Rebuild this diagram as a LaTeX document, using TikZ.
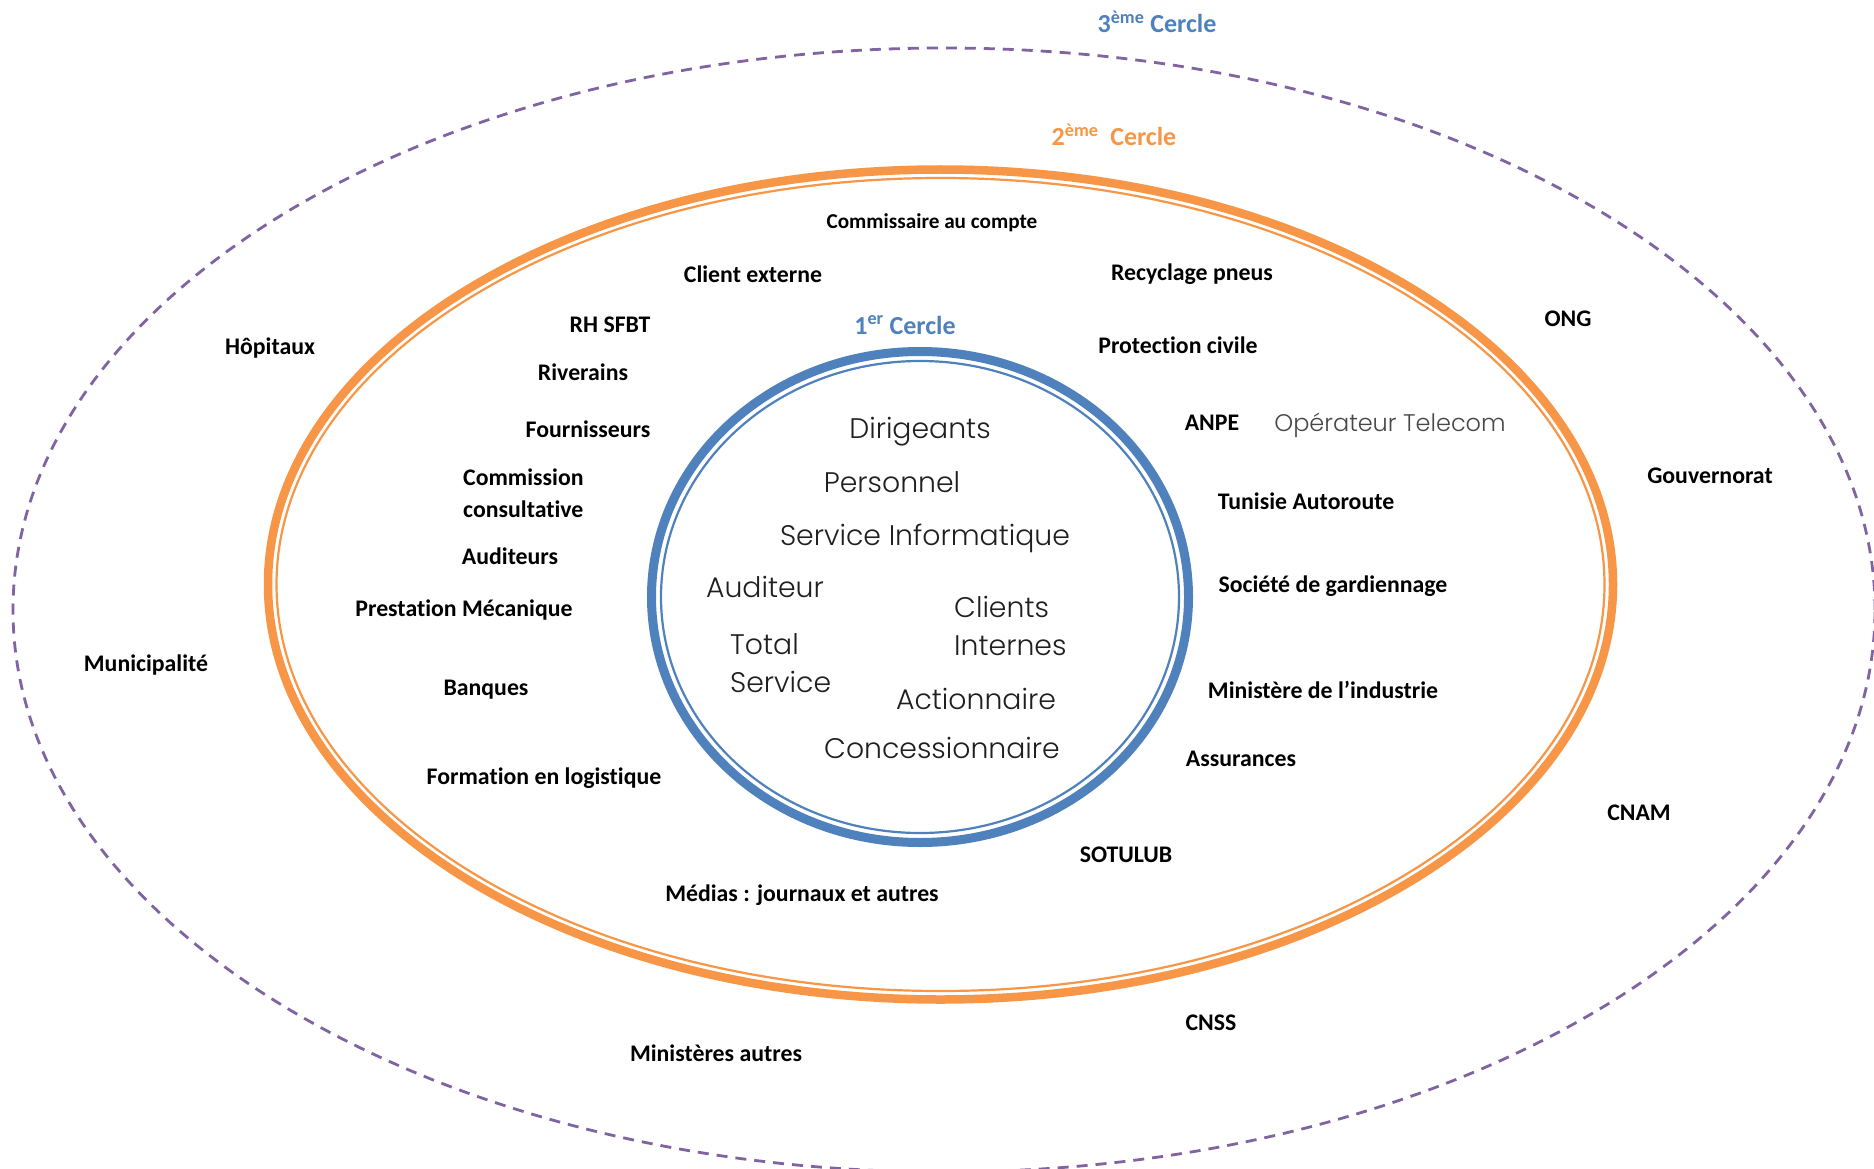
\documentclass[tikz,border=0pt]{standalone}
\usepackage{fontspec}
\setmainfont{Carlito}[Ligatures=NoCommon]
\newfontfamily\gothic{Poppins Light}
\definecolor{ringblue}{HTML}{4F81BD}
\definecolor{ringorange}{HTML}{F79646}
\definecolor{ringpurple}{HTML}{8064A2}
\begin{document}
\begin{tikzpicture}[x=1pt,y=-1pt,
  lbl/.style={font=\fontsize{23.8}{28}\selectfont\bfseries, text=black, inner sep=0pt},
  small/.style={font=\fontsize{21.2}{25}\selectfont\bfseries, text=black, inner sep=0pt},
  core/.style={font=\gothic\fontsize{28.3}{38}\selectfont, text=black!88, inner sep=0pt},
  title/.style={font=\fontsize{26}{30}\selectfont\bfseries, inner sep=0pt}]
\useasboundingbox (0,0) rectangle (1874,1169);
\fill[white] (0,0) rectangle (1874,1169);

% third circle: dashed outer ellipse
\draw[ringpurple, line width=2.8pt, dash pattern=on 11pt off 8pt]
  (944,610) ellipse [x radius=931pt, y radius=562pt];

% second circle: thick-thin orange ring
\draw[ringorange, line width=8.5pt] (940.5,584.5) ellipse [x radius=672.5pt, y radius=415pt];
\draw[ringorange, line width=2.2pt] (940.5,584.5) ellipse [x radius=664pt, y radius=406.5pt];

% first circle: thick-thin blue ring
\draw[ringblue, line width=9pt] (920,597) ellipse [x radius=268.5pt, y radius=245.5pt];
\draw[ringblue, line width=2.2pt] (920,597) ellipse [x radius=259pt, y radius=236pt];

% circle titles
\node[title, text=ringblue] (t3) at (1157,22) {3\textsuperscript{ème} Cercle};
\node[title, text=ringorange] (t2) at (1114,135) {2\textsuperscript{ème}\ \ Cercle};
\node[title, text=ringblue] (t1) at (905,325) {1\textsuperscript{er} Cercle};

% first circle members
\node[core] (dir) at (920,432) {Dirigeants};
\node[core] (pers) at (892,482) {Personnel};
\node[core] (si) at (925,538) {Service Informatique};
\node[core] (aud) at (765,587) {Auditeur};
\node[core, anchor=west, align=left] (ci) at (954,626) {Clients\\Internes};
\node[core, anchor=west, align=left] (ts) at (730,663) {Total\\Service};
\node[core] (act) at (976,699) {Actionnaire};
\node[core] (conc) at (942,748) {Concessionnaire};

% second circle members
\node[small] (cac) at (932,223) {Commissaire au compte};
\node[lbl] (cext) at (753,274) {Client externe};
\node[lbl] (recy) at (1192,274) {Recyclage pneus};
\node[lbl] (rh) at (610,325) {RH SFBT};
\node[lbl] (pc) at (1178,345) {Protection civile};
\node[lbl] (riv) at (583,372) {Riverains};
\node[lbl] (four) at (588,429) {Fournisseurs};
\node[lbl] (anpe) at (1212,423) {ANPE};
\node[core, font=\gothic\fontsize{24}{28}\selectfont, text=black!72] (tel) at (1390,425) {Opérateur Telecom};
\node[lbl, anchor=west, align=left, font=\fontsize{23.8}{32}\selectfont\bfseries] (comm) at (463,493) {Commission\\consultative};
\node[lbl] (tun) at (1306,501) {Tunisie Autoroute};
\node[lbl] (audi) at (510,556) {Auditeurs};
\node[lbl] (gard) at (1333,586) {Société de gardiennage};
\node[lbl] (prest) at (464,610) {Prestation Mécanique};
\node[lbl] (banq) at (486,690) {Banques};
\node[lbl] (mind) at (1323,690) {Ministère de l’industrie};
\node[lbl] (assu) at (1241,759) {Assurances};
\node[lbl] (form) at (544,778) {Formation en logistique};
\node[lbl] (soto) at (1126,855) {SOTULUB};
\node[lbl] (med) at (802,895) {Médias : journaux et autres};

% third circle members
\node[lbl] (ong) at (1568,319) {ONG};
\node[lbl] (hop) at (270,348) {Hôpitaux};
\node[lbl] (gouv) at (1710,476) {Gouvernorat};
\node[lbl] (muni) at (146,665) {Municipalité};
\node[lbl] (cnam) at (1639,813) {CNAM};
\node[lbl] (cnss) at (1211,1023) {CNSS};
\node[lbl] (mina) at (716,1053) {Ministères autres};
\end{tikzpicture}
\end{document}
